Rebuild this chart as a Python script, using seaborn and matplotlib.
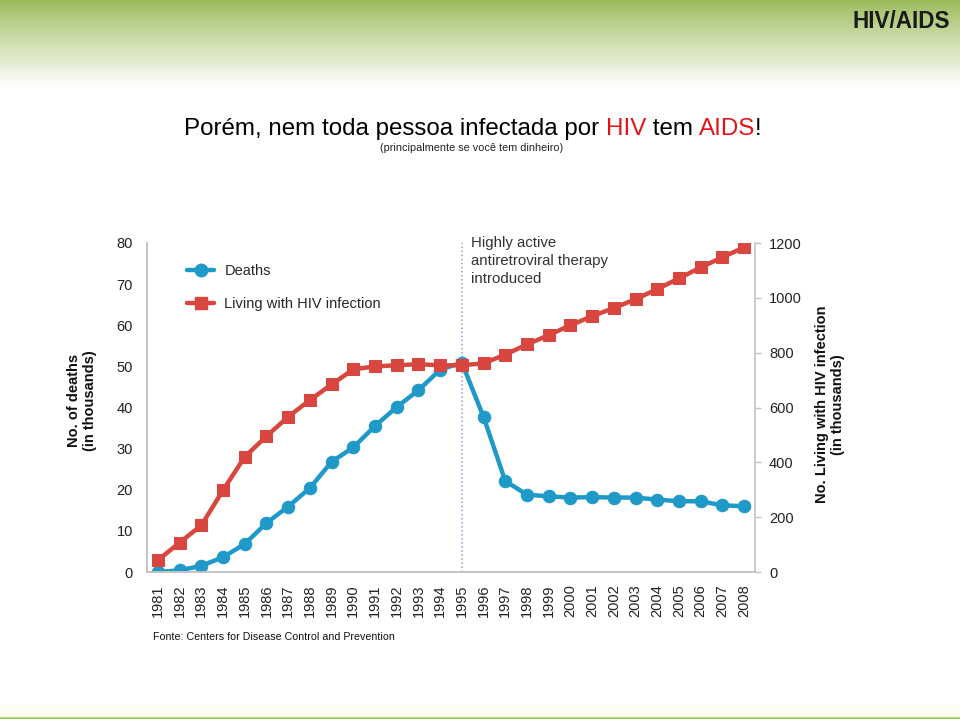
import matplotlib
matplotlib.use("Agg")
import matplotlib.pyplot as plt
import seaborn as sns
import pandas as pd
import numpy as np
from matplotlib.lines import Line2D

anos = [1981, 1982, 1983, 1984, 1985, 1986, 1987, 1988, 1989, 1990,
        1991, 1992, 1993, 1994, 1995, 1996, 1997, 1998, 1999, 2000,
        2001, 2002, 2003, 2004, 2005, 2006, 2007, 2008]
mortes = [0, 0.4, 1.5, 3.6, 6.8, 11.9, 15.9, 20.4, 26.8, 30.3,
          35.5, 40.1, 44.2, 49.2, 50.9, 37.7, 22.1, 18.8, 18.4, 18.1,
          18.2, 18.1, 18.1, 17.6, 17.2, 17.2, 16.2, 16.0]
vivendo = [43, 107, 170, 298, 420, 495, 566, 627, 684, 739,
           750, 754, 758, 754, 754, 761, 793, 830, 864, 900,
           933, 963, 995, 1032, 1071, 1111, 1148, 1184]
ano_terapia = 1995

df = pd.DataFrame({"Ano": anos, "Deaths": mortes, "Living": vivendo})

sns.set_theme(style="white")
plt.rcParams['font.family'] = ['Liberation Sans', 'DejaVu Sans']

AZUL = "#1f9ac8"
VERMELHO = "#d9463f"
CINZA = "#c4c4c4"
W, H = 960, 719

fig = plt.figure(figsize=(9.6, 7.19), dpi=100)
renderer = fig.canvas.get_renderer()

# Cabeçalho com degradê verde
ax_top = fig.add_axes([0, 1 - 88 / H, 1, 88 / H])
t = np.linspace(0, 1, 200) ** 0.9
topo = np.array([155, 187, 89]) / 255
grad = topo[None, :] * (1 - t[:, None]) + t[:, None]
ax_top.imshow(grad[:, None, :], aspect="auto", extent=[0, 1, 0, 1])
ax_top.axis("off")

# Faixa verde no rodapé
ax_bot = fig.add_axes([0, 0, 1, 14 / H])
ax_bot.axhspan(0, 3 / 14, color="#92d050")
ax_bot.axhspan(3 / 14, 1, color="#fbfdf0")
ax_bot.set_xlim(0, 1)
ax_bot.set_ylim(0, 1)
ax_bot.axis("off")

# Gráfico principal
ax = fig.add_axes([147 / W, 1 - 572 / H, (755 - 147) / W, (572 - 243) / H])
ax2 = ax.twinx()

sns.lineplot(data=df, x="Ano", y="Deaths", ax=ax, color=AZUL, linewidth=3.2,
             marker="o", markersize=9, markeredgecolor=AZUL, label="Deaths", legend=False)
sns.lineplot(data=df, x="Ano", y="Living", ax=ax2, color=VERMELHO, linewidth=3.2,
             marker="s", markersize=8.5, markeredgecolor=VERMELHO, label="Living with HIV infection",
             legend=False)

ax.set_xlim(1980.5, 2008.5)
ax.set_ylim(0, 80)
ax2.set_ylim(0, 1200)

ax.axvline(ano_terapia, color="#7ea6c8", linestyle=":", linewidth=1.1, zorder=0)
ax.text(1995.4, 81.6, "Highly active\nantiretroviral therapy\nintroduced",
        fontsize=10.8, color="#333333", va="top", ha="left", linespacing=1.35, clip_on=False)

ax.set_xticks(anos)
ax.set_xticklabels([str(a) for a in anos], rotation=90, fontsize=10.5, color="#222222")
ax.set_yticks(np.arange(0, 81, 10))
ax.tick_params(axis="y", length=0, pad=10, labelsize=10.5, labelcolor="#222222")
ax.tick_params(axis="x", length=0, pad=9)
ax2.set_yticks(np.arange(0, 1201, 200))
ax2.tick_params(axis="y", length=4, width=1, color=CINZA, pad=6, labelsize=10.5,
                labelcolor="#222222", right=True)

for a in (ax, ax2):
    a.set_xlabel("")
    a.grid(False)
    a.spines["top"].set_visible(False)
    for s in ("left", "bottom", "right"):
        a.spines[s].set_color(CINZA)
        a.spines[s].set_linewidth(1.2)
ax.spines["right"].set_visible(False)

ax.set_ylabel("No. of deaths\n(in thousands)", fontsize=10.5, fontweight="bold", color="#111111",
              linespacing=1.15)
ax.yaxis.set_label_coords(-0.082, 0.52)
ax2.set_ylabel("No. Living with HIV infection\n(in thousands)", fontsize=10.5, fontweight="bold",
               color="#111111", linespacing=1.15)
ax2.yaxis.set_label_coords(1.099, 0.51)

# Legenda
handles = [Line2D([], [], color=AZUL, linewidth=3.2, marker="o", markersize=9),
           Line2D([], [], color=VERMELHO, linewidth=3.2, marker="s", markersize=8.5)]
ax2.legend(handles, ["Deaths", "Living with HIV infection"], loc="upper left",
           bbox_to_anchor=(0.066, 0.935), frameon=False, fontsize=10.5,
           handlelength=1.85, handletextpad=0.7, labelspacing=1.3, borderaxespad=0, borderpad=0)


# Textos do slide (tamanho ajustado à largura medida na imagem)
def largura(s, size, **kw):
    tt = fig.text(0, 0, s, fontsize=size, **kw)
    w = tt.get_window_extent(renderer).width
    tt.remove()
    return w


def tamanho_para(s, px, **kw):
    return 10 * px / largura(s, 10, **kw)


fig.text(950 / W, 1 - 28 / H, "HIV/AIDS", fontsize=tamanho_para("HIV/AIDS", 97, fontweight="bold"),
         fontweight="bold", color="#1a1a1a", ha="right", va="baseline")

partes = [("Porém, nem toda pessoa infectada por ", "black"), ("HIV", "#e3151b"),
          (" tem ", "black"), ("AIDS", "#e3151b"), ("!", "black")]
titulo = "".join(p for p, _ in partes)
tam = tamanho_para(titulo, 580)
total = largura(titulo, tam)
x0 = 473 - total / 2
acum = ""
for p, cor in partes:
    acum += p
    x = x0 + largura(acum, tam) - largura(p, tam)
    fig.text(x / W, 1 - 135 / H, p, fontsize=tam, color=cor, ha="left", va="baseline")

sub = "(principalmente se você tem dinheiro)"
fig.text(472 / W, 1 - 151 / H, sub, fontsize=tamanho_para(sub, 183),
         ha="center", va="baseline", color="#222222")
fonte = "Fonte: Centers for Disease Control and Prevention"
fig.text(153 / W, 1 - 640 / H, fonte, fontsize=tamanho_para(fonte, 241),
         ha="left", va="baseline", color="#111111")

fig.savefig("out.png", dpi=100)
